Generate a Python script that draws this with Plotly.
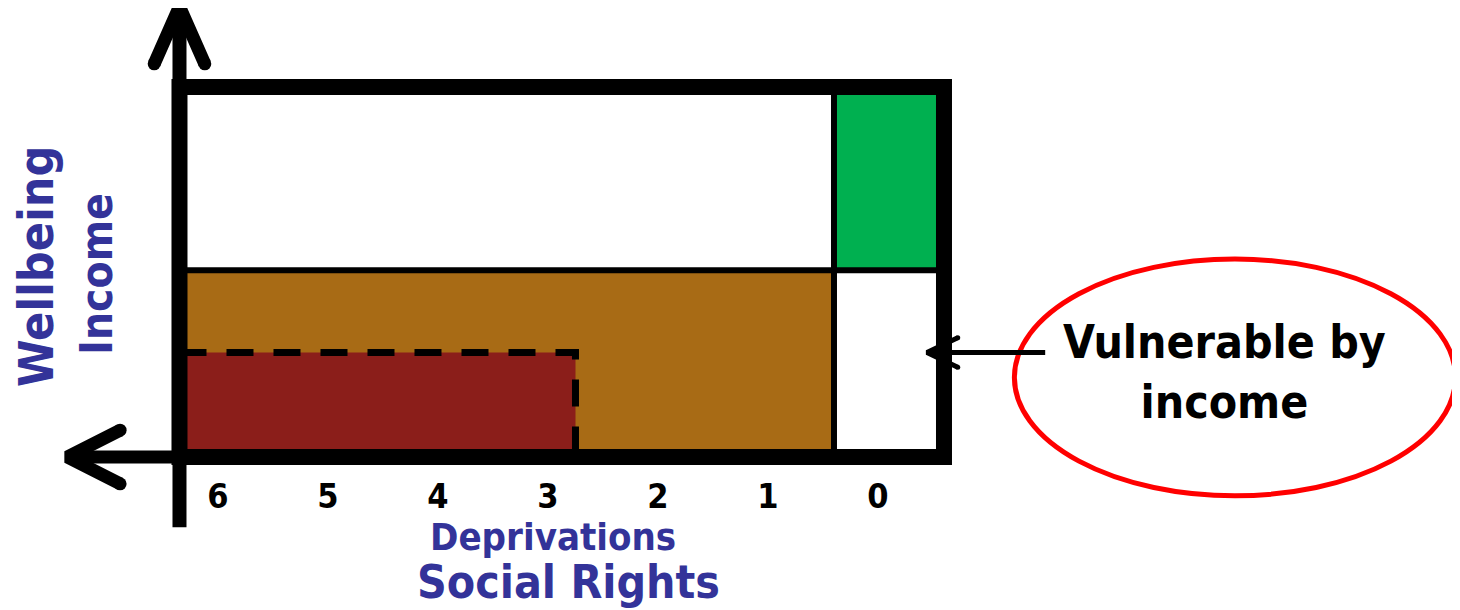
import plotly.graph_objects as go

# ---- data (diagram values) ----
deprivations = [6, 5, 4, 3, 2, 1, 0]
tick_labels = ["6", "5", "4", "3", "2", "1", "0"]

# outer box in (deprivations, wellbeing) units
box_x = [6.35, -0.6]
box_y = [0.0, 4.0]
threshold_dep = 0.4        # 0 deprivations vs >=1
extreme_dep = 2.75         # extreme threshold
wellbeing_line = 2.02      # income wellbeing line
minimum_line = 1.13        # minimum wellbeing line

region_names = ["Poor", "Extreme poor", "Not poor", "Vulnerable by income"]
region_x0 = [box_x[0], box_x[0], threshold_dep, threshold_dep]
region_x1 = [threshold_dep, extreme_dep, box_x[1], box_x[1]]
region_y0 = [box_y[0], box_y[0], wellbeing_line, box_y[0]]
region_y1 = [wellbeing_line, minimum_line, box_y[1], wellbeing_line]
region_colors = ["#A86B15", "#8B1E1A", "#00B050", "#FFFFFF"]

# axis arrows
v_arrow_x = [6.35, 6.35]
v_arrow_y = [-0.76, 4.87]
h_arrow_x = [6.35, 7.37]
h_arrow_y = [0.0, 0.0]
head_dx = 0.23
head_dy = 0.62
hhead_dx = 0.48
hhead_dy = 0.29

# note
note_text = "Vulnerable by<br>income"
note_arrow_x = [-1.52, -0.445]
note_arrow_y = [1.13, 1.13]
ellipse_x = [-1.24, -5.25]
ellipse_y = [2.14, -0.42]

BLUE = "#333399"
FONT = "DejaVu Sans Condensed"

fig = go.Figure()

shapes = []
# fills
for x0, x1, y0, y1, c in zip(region_x0, region_x1, region_y0, region_y1, region_colors):
    shapes.append(dict(type="rect", x0=x0, x1=x1, y0=y0, y1=y1,
                       fillcolor=c, line=dict(width=0), layer="below"))
# dashed extreme rect
shapes.append(dict(type="path",
                   path=f"M {box_x[0]},{minimum_line} L {extreme_dep},{minimum_line} L {extreme_dep},{box_y[0]}",
                   line=dict(color="black", width=7, dash="27px,20px"), layer="below"))
# dividers
shapes.append(dict(type="line", x0=threshold_dep, x1=threshold_dep, y0=box_y[0], y1=box_y[1],
                   line=dict(color="black", width=6), layer="below"))
shapes.append(dict(type="line", x0=box_x[0], x1=box_x[1], y0=wellbeing_line, y1=wellbeing_line,
                   line=dict(color="black", width=6), layer="below"))
# outer box
shapes.append(dict(type="rect", x0=box_x[0], x1=box_x[1], y0=box_y[0], y1=box_y[1],
                   line=dict(color="black", width=16), fillcolor="rgba(0,0,0,0)", layer="below"))
# ellipse
shapes.append(dict(type="circle", x0=ellipse_x[0], x1=ellipse_x[1], y0=ellipse_y[0], y1=ellipse_y[1],
                   line=dict(color="#FF0000", width=5), layer="below"))
fig.update_layout(shapes=shapes)

cap = dict(color="#000000", opacity=1, line=dict(width=0, color="#000000"))

# vertical axis arrow
fig.add_trace(go.Scatter(x=v_arrow_x, y=v_arrow_y, mode="lines",
                         line=dict(color="black", width=14), hoverinfo="skip"))
tip = (v_arrow_x[1], v_arrow_y[1])
fig.add_trace(go.Scatter(x=[tip[0] + head_dx, tip[0], tip[0] - head_dx],
                         y=[tip[1] - head_dy, tip[1], tip[1] - head_dy],
                         mode="lines+markers", line=dict(color="black", width=13),
                         marker=dict(size=[13, 0, 13], **cap), hoverinfo="skip"))
# horizontal axis arrow
fig.add_trace(go.Scatter(x=h_arrow_x, y=h_arrow_y, mode="lines",
                         line=dict(color="black", width=13), hoverinfo="skip"))
htip = (h_arrow_x[1], h_arrow_y[1])
fig.add_trace(go.Scatter(x=[htip[0] - hhead_dx, htip[0], htip[0] - hhead_dx],
                         y=[htip[1] + hhead_dy, htip[1], htip[1] - hhead_dy],
                         mode="lines+markers", line=dict(color="black", width=13),
                         marker=dict(size=[13, 0, 13], **cap), hoverinfo="skip"))
# note arrow
fig.add_trace(go.Scatter(x=note_arrow_x, y=note_arrow_y, mode="lines",
                         line=dict(color="black", width=5), hoverinfo="skip"))
ntip = (note_arrow_x[1], note_arrow_y[1])
fig.add_trace(go.Scatter(x=[ntip[0] - 0.28, ntip[0], ntip[0] - 0.28],
                         y=[ntip[1] + 0.16, ntip[1], ntip[1] - 0.16],
                         mode="lines+markers", line=dict(color="black", width=5),
                         marker=dict(size=[5, 0, 5], **cap), hoverinfo="skip"))

annotations = [
    dict(x=-3.15, y=0.92, text="<b>" + note_text + "</b>", showarrow=False,
         font=dict(family=FONT, size=46, color="black"), align="center"),
    dict(x=2.95, y=-0.86, text="<b>Deprivations</b>", showarrow=False, borderpad=0,
         font=dict(family=FONT, size=38, color=BLUE)),
    dict(x=2.81, y=-1.35, text="<b>Social Rights</b>", showarrow=False, borderpad=0,
         font=dict(family=FONT, size=46, color=BLUE)),
    dict(x=7.65, y=2.06, text="<b>Wellbeing</b>", showarrow=False, textangle=-90,
         font=dict(family=FONT, size=48, color=BLUE)),
    dict(x=7.1, y=1.98, text="<b>Income</b>", showarrow=False, textangle=-90,
         font=dict(family=FONT, size=44, color=BLUE)),
]
fig.update_layout(annotations=annotations)

# the page adds an 8px body margin, so the figure is 8px smaller and
# the axis ranges are set so data lands at the reference pixel positions
fig.update_layout(
    template="none",
    width=1452, height=602,
    margin=dict(l=0, r=0, t=0, b=0),
    paper_bgcolor="white", plot_bgcolor="white",
    showlegend=False,
    xaxis=dict(range=[7.909, -5.291], tickvals=deprivations, ticktext=tick_labels,
               showgrid=False, zeroline=False, showline=False, ticks="",
               anchor="free", position=0.227,
               tickfont=dict(family=FONT, size=34, color="black", weight="bold")),
    yaxis=dict(range=[-1.654, 4.854], visible=False, showgrid=False, zeroline=False),
)

fig.write_html("out.html")
